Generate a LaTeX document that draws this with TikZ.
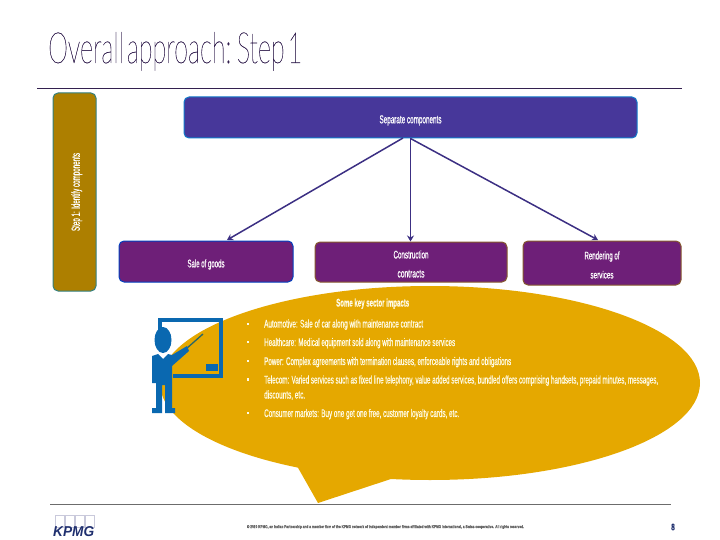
\documentclass[tikz,border=0pt]{standalone}
\usepackage{fontspec}
\usepackage{graphicx}
\setmainfont[FakeBold=0.8]{Liberation Sans}
\newfontfamily\thinfont[FakeBold=0.5]{Lato Hairline}
\newfontfamily\plainfont{Liberation Sans}
\usetikzlibrary{arrows.meta,calc}
\definecolor{gold}{HTML}{AD7F00}
\definecolor{amber}{HTML}{E5A800}
\definecolor{indigo}{HTML}{47379A}
\definecolor{plum}{HTML}{6E1F78}
\definecolor{rulepurple}{HTML}{33204F}
\definecolor{figblue}{HTML}{0A68B0}
\definecolor{cream}{HTML}{FFFBE6}
\definecolor{navy}{HTML}{1F2F6E}
\newcommand{\fitw}[3]{\resizebox{#1pt}{#2pt}{#3}}
\newcommand{\lift}[1]{\rule{0pt}{#1pt}}
\tikzset{
  x=1pt,y=-1pt,
  panel/.style={rounded corners=5pt,line width=1pt,inner sep=0pt,text=white,align=center,font=\fontsize{9}{19}\selectfont},
  linetext/.style={anchor=base west,inner sep=0pt,text=cream},
  bulletdot/.style={fill=cream,inner sep=0pt,minimum size=2.5pt},
  conn/.style={-{Stealth[length=6pt,width=7pt]},line width=1.5pt,color=indigo!85!black},
  fig/.style={fill=figblue,draw=none},
}
\begin{document}
\begin{tikzpicture}
\useasboundingbox (0,0) rectangle (720,540);
% title and rules
\node[anchor=base west,inner sep=0pt,text=rulepurple] (title) at (48,63) {\fitw{254}{31}{\thinfont\spaceskip=0.12em Overall approach: Step 1}};
\coordinate (ruleA) at (37,88); \coordinate (ruleB) at (682,88);
\draw[rulepurple,line width=0.8pt] (ruleA) -- (ruleB);
\coordinate (ruleC) at (50,504); \coordinate (ruleD) at (671,504);
% callout
\fill[amber] (430,383) ellipse [x radius=270,y radius=97];
\fill[amber] (297,466) -- (318,503) -- (397,477) -- cycle;
\draw[gray!85!black,line width=0.8pt] (ruleC) -- (ruleD);
% boxes
\node[panel,draw=teal!60!gray,fill=gold,minimum width=198pt,minimum height=43pt,rotate=90] (stepone) at (74.5,192) {\lift{13}\fitw{78}{8.5}{Step 1: Identify components}};
\node[panel,draw=cyan!60!blue,fill=indigo,minimum width=453pt,minimum height=41pt] (sep) at (410.5,117.5) {\lift{14}\fitw{62}{8}{Separate components}};
\node[panel,draw=blue!50!teal,fill=plum,minimum width=174pt,minimum height=41pt] (goods) at (206,261.5) {\lift{14}\fitw{37}{8}{Sale of goods}};
\node[panel,draw=brown!70!black,fill=plum,minimum width=192pt,minimum height=40pt] (constr) at (411,262) {\lift{12}\fitw{35}{8}{Construction}\\\fitw{27}{7.5}{contracts}};
\node[panel,draw=brown!70!black,fill=plum,minimum width=158pt,minimum height=44pt] (render) at (602,263) {\lift{12}\fitw{35}{8}{Rendering of}\\\fitw{23}{7.5}{services}};
% connectors
\coordinate (fanLeft) at (403,138);
\coordinate (goodsIn) at (227,240);
\coordinate (renderIn) at (598,240);
\draw[conn] (fanLeft) -- (goodsIn);
\draw[conn] (sep.south) -- (sep.south |- constr.north);
\draw[conn] (sep.south) -- (renderIn);
% callout text
\node[anchor=base west,inner sep=0pt,text=cream] (heading) at (336,306.5) {\fitw{73}{8}{\bfseries Some key sector impacts}};
\node[linetext] (l1) at (264,327.5) {\fitw{159}{8}{Automotive: Sale of car along with maintenance contract}};
\node[linetext] (l2) at (264,346) {\fitw{191}{8}{Healthcare: Medical equipment sold along with maintenance services}};
\node[linetext] (l3) at (264,365) {\fitw{247}{8}{Power: Complex agreements with termination clauses, enforceable rights and obligations}};
\node[linetext] (l4) at (264,383.5) {\fitw{394}{8}{Telecom: Varied services such as fixed line telephony, value added services, bundled offers comprising handsets, prepaid minutes, messages,}};
\node[linetext] (l5) at (264,398.5) {\fitw{41}{8}{discounts, etc.}};
\node[linetext] (l6) at (264,417) {\fitw{195}{8}{Consumer markets: Buy one get one free, customer loyalty cards, etc.}};
\foreach \yy in {324,342,361,379.5,413}{\node[bulletdot] at (248,\yy) {};}
% presenter figure
\fill[figblue] (158,318) rectangle (223,322);
\fill[figblue] (158,318) rectangle (162,330);
\fill[figblue] (219,318) rectangle (223,378);
\fill[figblue] (173,374) rectangle (223,378);
\fill[figblue] (206,364) rectangle (218,371);
\draw[teal!60!gray!80!black,line width=1.3pt] (186,349) -- (203,334);
\fill[fig] (163,340) ellipse [x radius=8.5,y radius=13];
\fill[fig] (152,356) -- (158,354) -- (163,359) -- (168,354) -- (172,355) -- (187,346) -- (189,351) -- (172,366)
  -- (172,408) -- (175,408) -- (175,413) -- (165,413) -- (165,385) -- (162,385) -- (162,413) -- (152,413)
  -- (152,408) -- (156,408) -- (156,383) -- (152,383) -- cycle;
% footer
\node[inner sep=0pt,anchor=center,text=gray!80!black] (legal) at (385.5,527) {\fitw{277}{3}{\bfseries © 2010 KPMG, an Indian Partnership and a member firm of the KPMG network of independent member firms affiliated with KPMG International, a Swiss cooperative. All rights reserved.}};
\node[inner sep=0pt,text=navy] (page) at (673,527) {\fitw{3.5}{6.5}{\bfseries 8}};
\foreach \xx in {55,65,75,85}{\draw[blue!20!gray!35,line width=0.6pt] (\xx,515.5) rectangle ++(9.5,12);}
\node[anchor=base west,inner sep=0pt,text=navy] (kpmg) at (53,536) {\fitw{41}{10}{\plainfont\bfseries\itshape KPMG}};
\end{tikzpicture}
\end{document}
